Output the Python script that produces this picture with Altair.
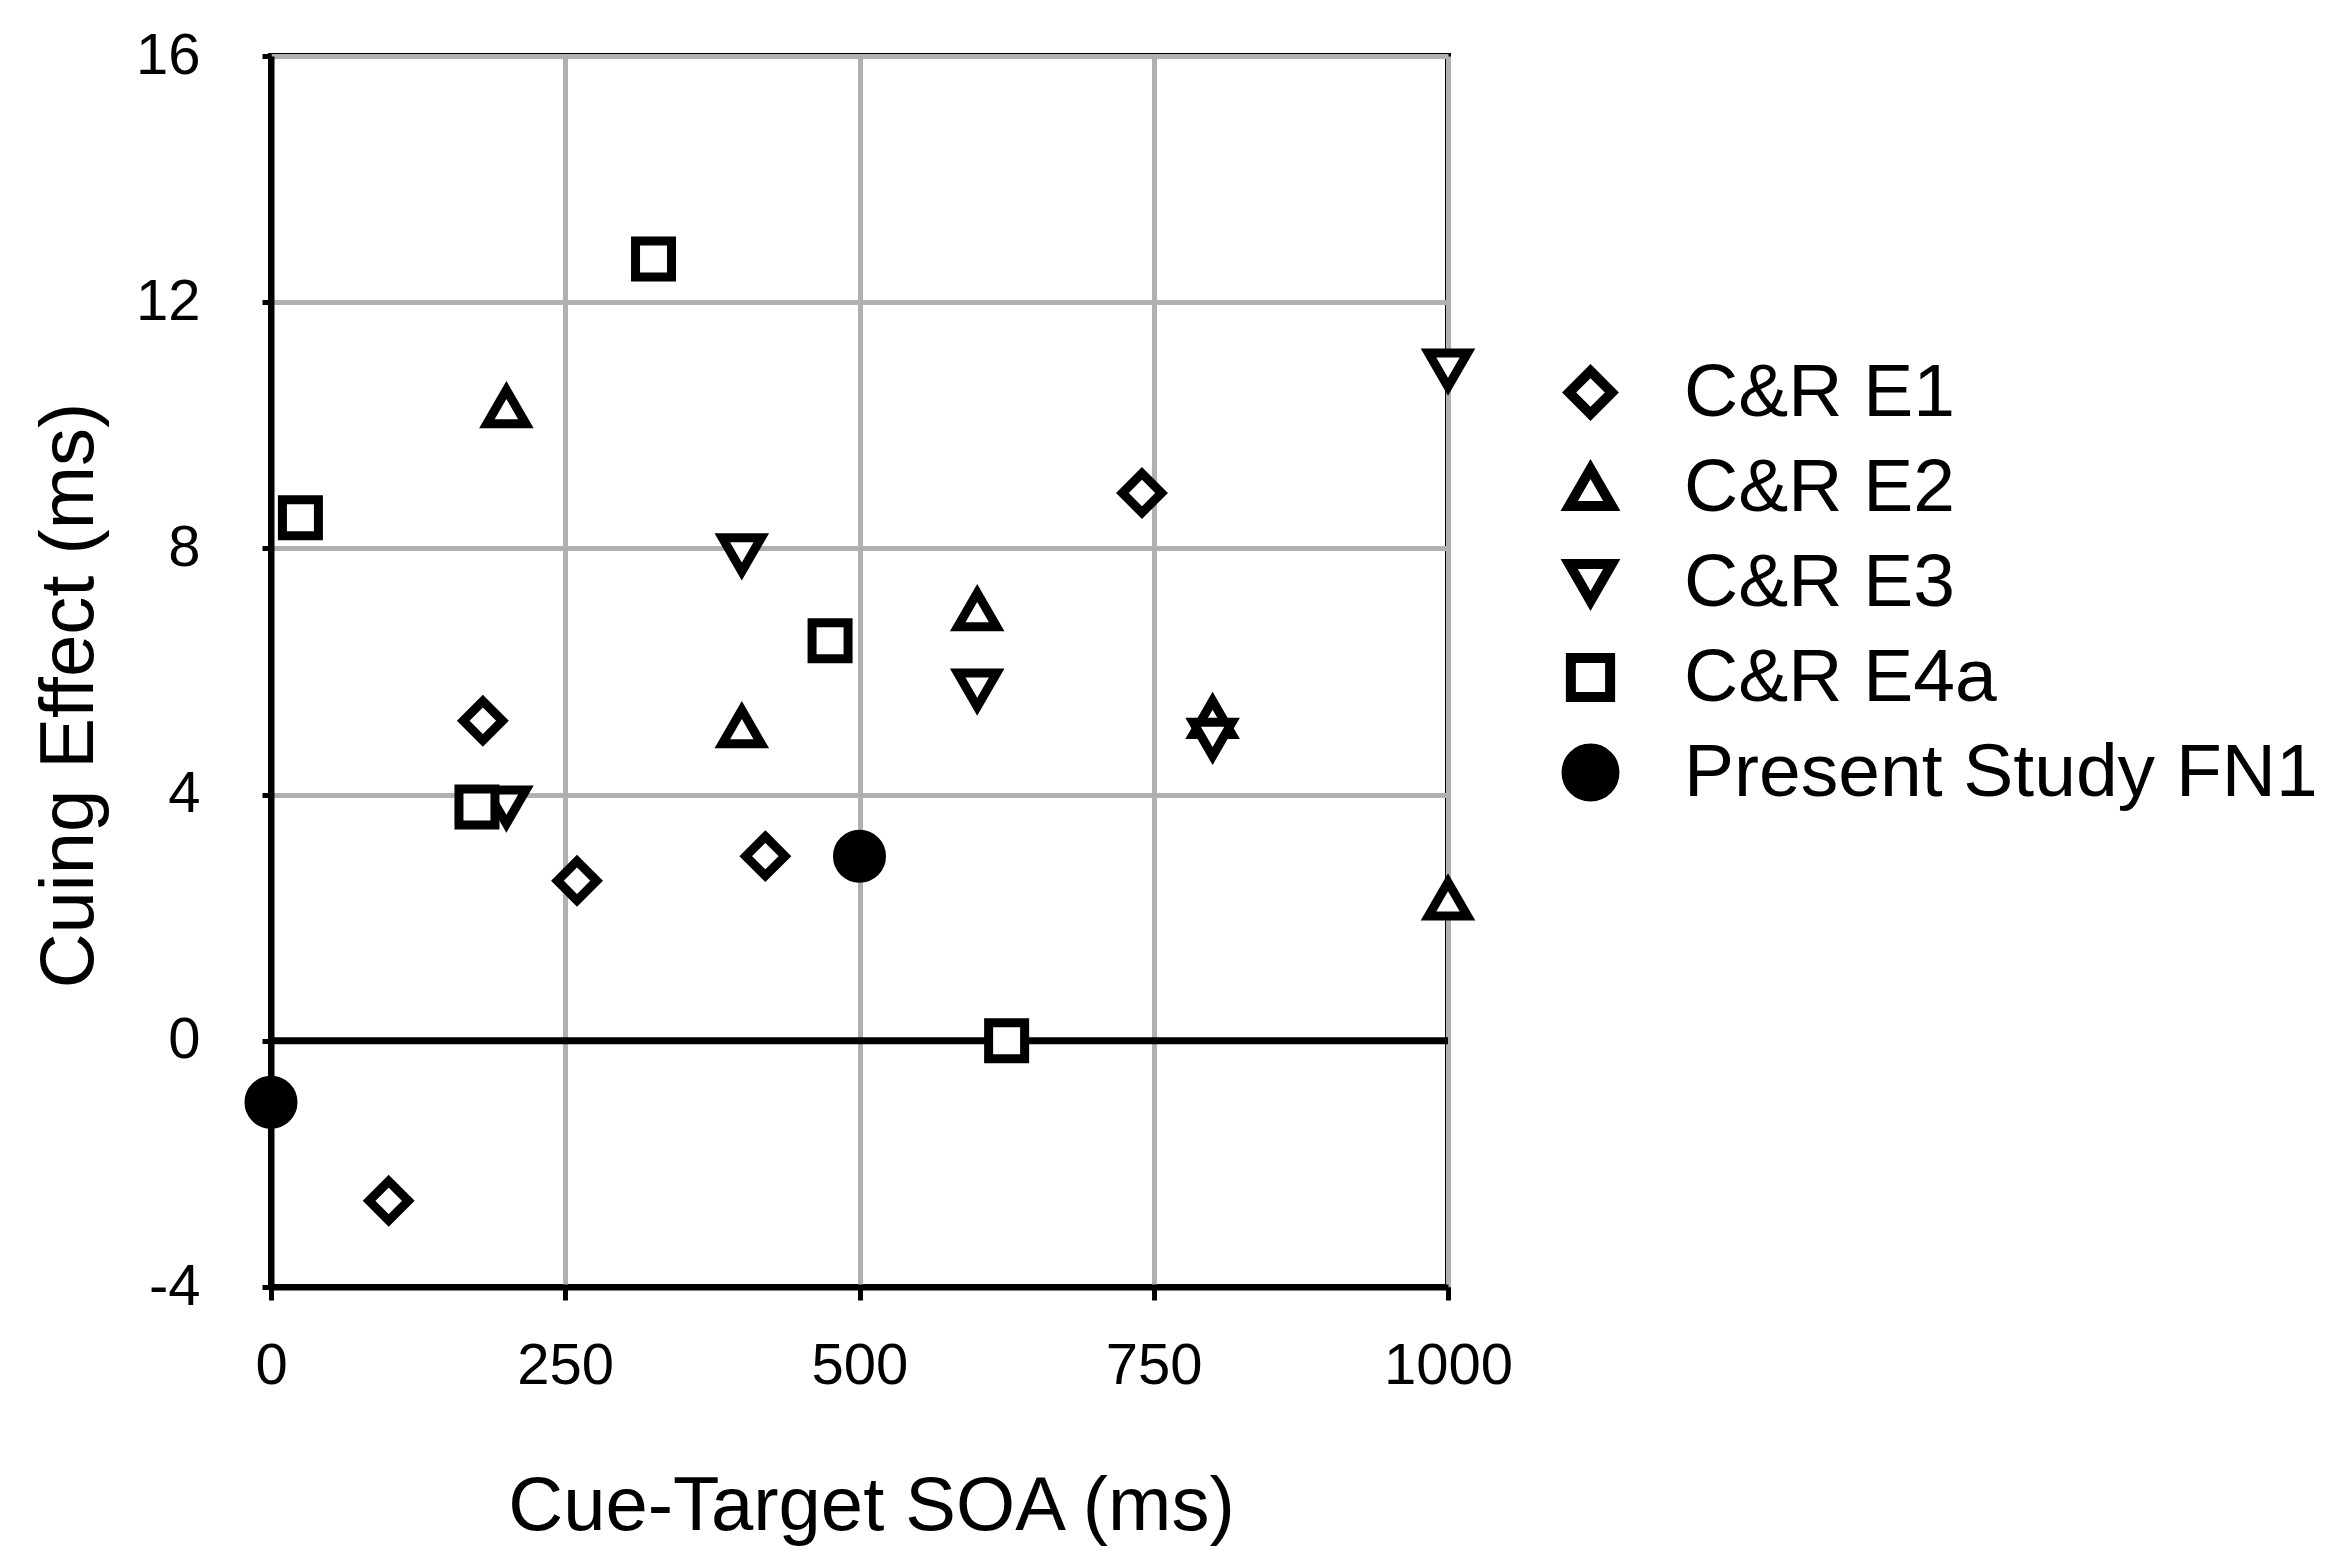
import altair as alt
import pandas as pd

series_names = ["C&R E1", "C&R E2", "C&R E3", "C&R E4a", "Present Study FN1"]

e1_soa = [100, 180, 260, 420, 740]
e1_cue = [-2.6, 5.2, 2.6, 3.0, 8.9]
e2_soa = [200, 400, 600, 800, 1000]
e2_cue = [10.3, 5.1, 7.0, 5.25, 2.3]
e3_soa = [200, 400, 600, 800, 1000]
e3_cue = [3.8, 7.9, 5.7, 4.9, 10.9]
e4a_soa = [25, 175, 325, 475, 625]
e4a_cue = [8.5, 3.8, 12.7, 6.5, 0.0]
fn1_soa = [0, 500]
fn1_cue = [-1.0, 3.0]

x_ticks = [0, 250, 500, 750, 1000]
y_ticks = [-4, 0, 4, 8, 12, 16]
zero_line = [0]

rows = []
for name, xs, ys in zip(series_names,
                        [e1_soa, e2_soa, e3_soa, e4a_soa, fn1_soa],
                        [e1_cue, e2_cue, e3_cue, e4a_cue, fn1_cue]):
    for a, b in zip(xs, ys):
        rows.append({"series": name, "soa": a, "cue": b})
df = pd.DataFrame(rows)
zero_df = pd.DataFrame({"cue": zero_line})

shape_paths = [
    "M0,-0.98L0.98,0L0,0.98L-0.98,0Z",
    "M0,-0.844L0.975,0.844L-0.975,0.844Z",
    "M0,0.844L0.975,-0.844L-0.975,-0.844Z",
    "M-0.9,-0.9L0.9,-0.9L0.9,0.9L-0.9,0.9Z",
    "M-1.1,0A1.1,1.1,0,1,1,1.1,0A1.1,1.1,0,1,1,-1.1,0Z",
]
fill_colors = ["white", "white", "white", "white", "black"]
stroke_colors = ["black", "black", "black", "black", "black"]

FONT = "Liberation Sans"

x_axis = alt.Axis(values=x_ticks, labelExpr="'' + datum.value", title="Cue-Target SOA (ms)",
                  titleX=600, titleY=242, titleBaseline="alphabetic", titleAlign="center",
                  tickSize=13, labelPadding=37, labelFlush=False, labelOverlap=False)
y_axis = alt.Axis(values=y_ticks, labelExpr="'' + datum.value", title="Cuing Effect (ms)",
                  titleX=-179, titleY=639, titleAngle=270, titleBaseline="alphabetic",
                  titleAlign="center", tickSize=9, labelPadding=62, labelFlush=False,
                  labelOverlap=False)

x_scale = alt.Scale(domain=[0, 1000], nice=False, zero=False)
y_scale = alt.Scale(domain=[-4, 16], nice=False, zero=False)

legend = alt.Legend(orient="none", legendX=1282, legendY=298, title=None,
                    labelFont=FONT, labelFontSize=75, labelColor="black", labelLimit=0,
                    symbolSize=1900, symbolStrokeWidth=10, clipHeight=77,
                    labelOffset=56, rowPadding=18, padding=0, symbolOffset=0)

rule = alt.Chart(zero_df).mark_rule(color="black", strokeWidth=7).encode(
    y=alt.Y("cue:Q", scale=y_scale, axis=y_axis, title="Cuing Effect (ms)")
)

points = alt.Chart(df).mark_point(
    filled=True, strokeWidth=9, size=1600,
    opacity=1, fillOpacity=1, strokeOpacity=1
).encode(
    x=alt.X("soa:Q", scale=x_scale, axis=x_axis, title="Cue-Target SOA (ms)"),
    y=alt.Y("cue:Q", scale=y_scale, axis=y_axis, title="Cuing Effect (ms)"),
    shape=alt.Shape("series:N", scale=alt.Scale(domain=series_names, range=shape_paths),
                    legend=legend, sort=series_names),
    fill=alt.Fill("series:N", scale=alt.Scale(domain=series_names, range=fill_colors),
                  legend=legend, sort=series_names),
    stroke=alt.Stroke("series:N", scale=alt.Scale(domain=series_names, range=stroke_colors),
                      legend=legend, sort=series_names),
)

chart = alt.layer(rule, points).properties(
    width=1177, height=1231,
    autosize=alt.AutoSizeParams(type="none"),
    padding={"left": 263, "top": 48, "right": 883, "bottom": 262},
).configure(
    font=FONT
).configure_view(
    stroke="black", strokeWidth=6
).configure_axis(
    domainColor="black", domainWidth=6,
    tickColor="black", tickWidth=5,
    gridColor="#b0b0b0", gridWidth=5, gridOpacity=1,
    labelFont=FONT, labelFontSize=58, labelColor="black",
    titleFont=FONT, titleFontSize=76, titleFontWeight="normal", titleColor="black",
)

chart.save("out.html", embed_options={"renderer": "svg", "actions": False})
